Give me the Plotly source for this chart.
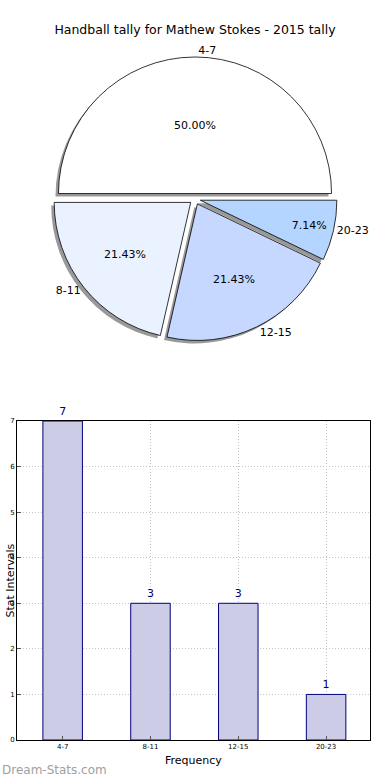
import plotly.graph_objects as go

categories = ["4-7", "8-11", "12-15", "20-23"]
counts = [7, 3, 3, 1]
slice_colors = ["#FFFFFF", "#EAF2FF", "#C6D8FF", "#B3D5FF"]
title_text = "Handball tally for Mathew Stokes - 2015 tally"
x_title = "Frequency"
y_title = "Stat Intervals"
watermark = "Dream-Stats.com"
y_ticks = [0, 1, 2, 3, 4, 5, 6, 7]

W, H = 390, 780
FONT = "DejaVu Sans"

cx, cy = 195, 199  # pie centre in px
half = 142
def px_x(a):
    return a / W
def px_y(a):
    return 1 - a / H
def dom_x(a, b):
    return [a / W, b / W]
def dom_y(top, bottom):
    return [1 - bottom / H, 1 - top / H]

pull = [0.04] * len(categories)
common = dict(labels=categories, values=counts, sort=False, direction="counterclockwise",
              rotation=-90, pull=pull, showlegend=False)

fig = go.Figure()

# shadow
fig.add_trace(go.Pie(
    **common, marker=dict(colors=["#999999"] * 4, line=dict(width=0)),
    textinfo="none", hoverinfo="skip",
    domain=dict(x=dom_x(cx - half - 3, cx + half - 3), y=dom_y(cy - half + 3, cy + half + 3)),
))
# main pie with percentages inside
fig.add_trace(go.Pie(
    **common, marker=dict(colors=slice_colors, line=dict(color="#000000", width=0.8)),
    texttemplate="%{percent:.2%}", textposition="inside", insidetextorientation="horizontal",
    textfont=dict(family=FONT, size=11, color="#000000"),
    hoverinfo="label+value",
    domain=dict(x=dom_x(cx - half, cx + half), y=dom_y(cy - half, cy + half)),
))
# transparent pie for outside labels
fig.add_trace(go.Pie(
    **common, marker=dict(colors=["rgba(0,0,0,0)"] * 4, line=dict(width=0)),
    texttemplate="%{label}", textposition="outside",
    textfont=dict(family=FONT, size=11, color="#000000"),
    hoverinfo="skip",
    domain=dict(x=dom_x(cx - half, cx + half), y=dom_y(cy - half, cy + half)),
))

fig.add_trace(go.Bar(
    x=categories, y=counts, width=0.45,
    marker=dict(color="#CCCCE6", line=dict(color="#000080", width=1)),
    text=counts, textposition="outside", cliponaxis=False,
    textfont=dict(family=FONT, size=11, color="#000080"),
    showlegend=False, xaxis="x", yaxis="y",
))

grid = dict(showgrid=True, gridcolor="#C4C4C4", griddash="1px,2px", gridwidth=1)
fig.update_layout(
    width=W, height=H, margin=dict(l=0, r=0, t=0, b=0),
    paper_bgcolor="white", plot_bgcolor="white",
    font=dict(family=FONT, size=7, color="#000000"),
    title=dict(text=title_text, x=0.5, xanchor="center", y=px_y(30), yanchor="middle",
               font=dict(family=FONT, size=12.5, color="#000000")),
    xaxis=dict(domain=dom_x(17, 370), anchor="y", range=[-0.52, 3.5], automargin=False,
               showline=True, linecolor="#000000", mirror=True,
               ticks="inside", ticklen=4, tickcolor="#555555", tickfont=dict(size=7), **grid),
    yaxis=dict(domain=dom_y(421, 740), anchor="x", range=[0, 7], tickvals=y_ticks, automargin=False,
               showline=True, linecolor="#000000", mirror=True, zeroline=False,
               ticks="inside", ticklen=4, tickcolor="#555555", tickfont=dict(size=7), **grid),
    annotations=[
        dict(text=x_title, xref="paper", yref="paper", x=px_x(193.5), y=px_y(760),
             xanchor="center", yanchor="middle", showarrow=False,
             font=dict(family=FONT, size=11, color="#000000")),
        dict(text=y_title, xref="paper", yref="paper", x=px_x(1), y=px_y(581),
             xanchor="left", yanchor="middle", showarrow=False, textangle=-90,
             font=dict(family=FONT, size=11, color="#000000")),
        dict(text=watermark, xref="paper", yref="paper", x=0, y=px_y(770),
             xanchor="left", yanchor="middle", showarrow=False,
             font=dict(family=FONT, size=12, color="#A0A0A0")),
    ],
)

fig.write_html("out.html", config={"displayModeBar": False},
               post_script="document.body.style.margin='0';")
